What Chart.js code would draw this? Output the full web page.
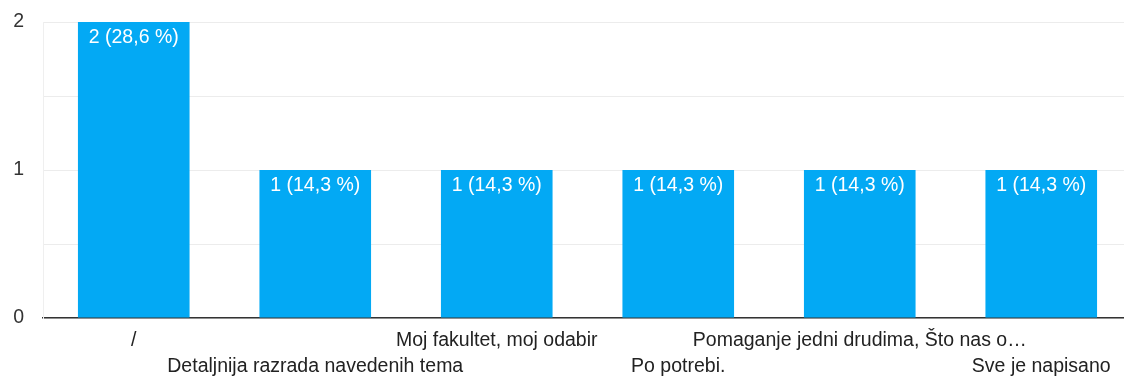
<!DOCTYPE html>
<html>
<head>
<meta charset="utf-8">
<script src="https://cdn.jsdelivr.net/npm/chart.js@4.4.0/dist/chart.umd.min.js"></script>
<style>
  html, body { margin: 0; padding: 0; background: #fff; overflow: hidden; }
  #wrap { width: 1132px; height: 377px; }
</style>
</head>
<body>
<div id="wrap"><canvas id="chartOdgovori"></canvas></div>
<script>
// odgovori i broj glasova
var odgovori = ['/', 'Detaljnija razrada navedenih tema', 'Moj fakultet, moj odabir', 'Po potrebi.', 'Pomaganje jedni drudima, Što nas o…', 'Sve je napisano'];
var glasovi = [2, 1, 1, 1, 1, 1];
var postoci = ['28,6', '14,3', '14,3', '14,3', '14,3', '14,3'];
var yOznake = [0, 1, 2];

var plava = '#03a9f4';
var font = "'Liberation Sans', Arial, sans-serif";
var velicina = 19.5;

// natpis "n (p %)" na vrhu svakog stupca
var natpisi = {
  id: 'natpisi',
  afterDatasetsDraw: function (chart) {
    var ctx = chart.ctx;
    var meta = chart.getDatasetMeta(0);
    ctx.save();
    ctx.fillStyle = '#fff';
    ctx.font = velicina + 'px ' + font;
    ctx.textAlign = 'center';
    ctx.textBaseline = 'middle';
    meta.data.forEach(function (bar, i) {
      ctx.fillText(glasovi[i] + ' (' + postoci[i] + ' %)', bar.x, bar.y + 15.5);
    });
    ctx.restore();
  }
};

const chartOdgovori = document.getElementById('chartOdgovori');
chartOdgovori.width = 1132;
chartOdgovori.height = 377;

new Chart(chartOdgovori, {
  type: 'bar',
  data: {
    labels: odgovori,
    datasets: [{
      data: glasovi,
      backgroundColor: plava,
      barPercentage: 0.615,
      categoryPercentage: 1
    }]
  },
  options: {
    responsive: false,
    animation: false,
    layout: { padding: { top: 22, right: 0, bottom: 0, left: 0 } },
    plugins: { legend: { display: false }, tooltip: { enabled: false } },
    scales: {
      x: {
        afterFit: function (axis) { axis.height = 59; },
        grid: { display: false, drawTicks: false },
        border: { color: '#333', width: 1.5 },
        ticks: {
          autoSkip: false,
          maxRotation: 0,
          minRotation: 0,
          padding: 10,
          color: '#222',
          font: { family: font, size: velicina, lineHeight: 26 / velicina },
          // naizmjenično u dva reda
          callback: function (v, i) {
            return i % 2 === 0 ? [odgovori[i], ''] : ['', odgovori[i]];
          }
        }
      },
      y: {
        min: 0,
        max: 2,
        afterFit: function (axis) {
          axis.width = 43;
          axis.paddingTop = 0;
          axis.paddingBottom = 0;
        },
        border: { color: '#efefef', width: 1 },
        grid: {
          color: '#ececec',
          lineWidth: 1,
          drawTicks: false
        },
        ticks: {
          stepSize: 0.5,
          padding: 19,
          color: '#333',
          font: { family: font, size: velicina },
          callback: function (v) {
            return yOznake.indexOf(v) >= 0 ? String(v) : '';
          }
        }
      }
    }
  },
  plugins: [natpisi]
});
</script>
</body>
</html>
